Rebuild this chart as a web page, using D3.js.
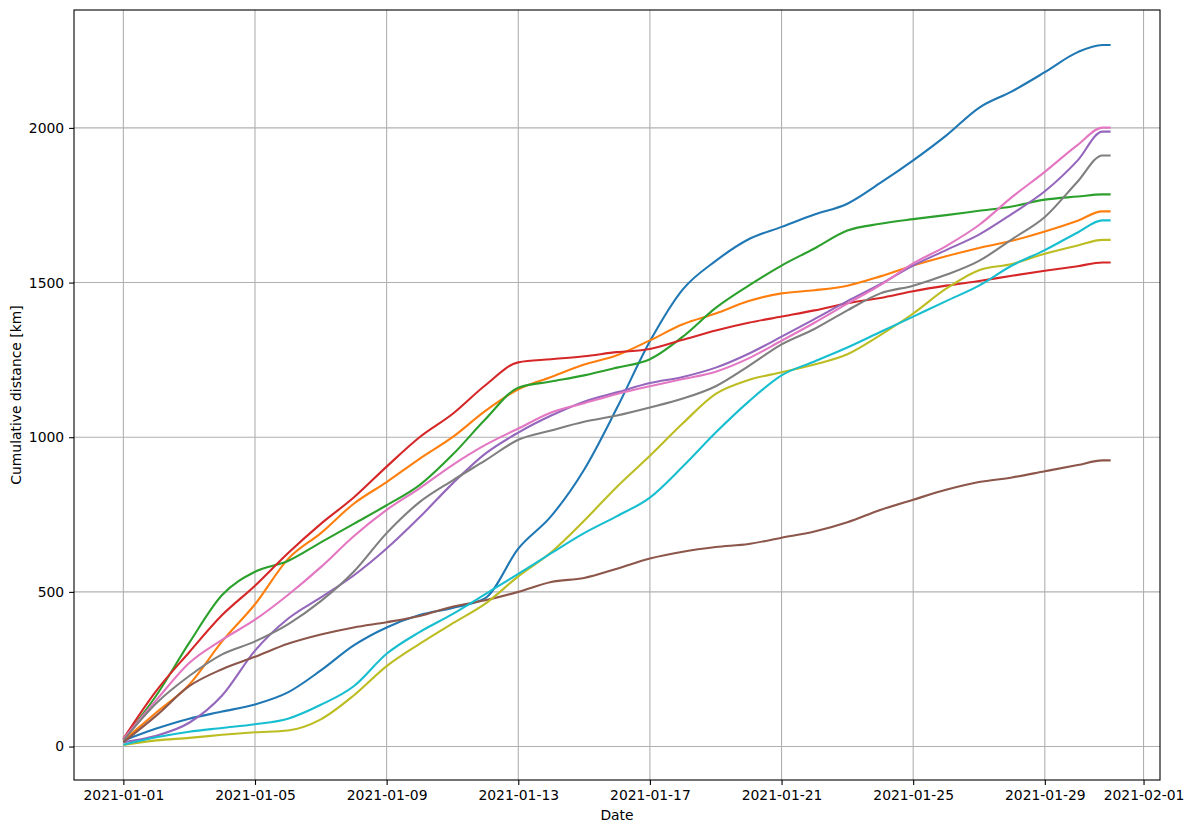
<!DOCTYPE html>
<html>
<head>
<meta charset="utf-8">
<script src="https://cdn.jsdelivr.net/npm/d3@7"></script>
<style>
body { margin: 0; background: #fff; }
svg { font-family: "DejaVu Sans", sans-serif; }
</style>
</head>
<body>
<script>
/* cumulative distance per rider, January 2021 */

const times = [
	"2021-01-01", "2021-01-02", "2021-01-03", "2021-01-04", "2021-01-05", "2021-01-06",
	"2021-01-07", "2021-01-08", "2021-01-09", "2021-01-10", "2021-01-11", "2021-01-12",
	"2021-01-13", "2021-01-14", "2021-01-15", "2021-01-16", "2021-01-17", "2021-01-18",
	"2021-01-19", "2021-01-20", "2021-01-21", "2021-01-22", "2021-01-23", "2021-01-24",
	"2021-01-25", "2021-01-26", "2021-01-27", "2021-01-28", "2021-01-29", "2021-01-30",
	"2021-01-30T18:00", "2021-01-31"
]

const blueKm   = [19,58,90,113,136,175,246,327,385,425,448,480,640,745,895,1095,1310,1478,1570,1640,1680,1720,1755,1822,1895,1975,2065,2118,2180,2245,2268,2268]
const orangeKm = [19,110,200,340,460,606,690,785,855,930,1000,1085,1155,1195,1235,1265,1313,1365,1400,1440,1465,1475,1490,1520,1555,1585,1612,1635,1665,1700,1730,1730]
const greenKm  = [25,165,335,490,565,600,660,720,780,845,943,1058,1160,1180,1200,1225,1252,1325,1418,1490,1555,1610,1668,1690,1705,1718,1732,1746,1768,1778,1785,1785]
const redKm    = [25,180,305,425,520,625,720,805,905,1000,1075,1168,1242,1252,1262,1275,1285,1315,1345,1370,1390,1410,1433,1450,1472,1490,1505,1522,1538,1553,1565,1565]
const purpleKm = [14,35,77,165,310,413,482,553,640,741,850,947,1015,1070,1115,1145,1175,1195,1225,1270,1325,1382,1440,1495,1555,1605,1655,1722,1795,1895,1988,1988]
const brownKm  = [14,100,195,250,290,332,362,385,402,422,452,473,500,532,545,575,608,630,645,655,675,695,725,765,798,830,855,870,890,910,925,925]
const pinkKm   = [25,150,270,345,410,490,580,680,765,835,910,975,1028,1080,1110,1140,1165,1188,1212,1255,1312,1370,1432,1492,1562,1618,1686,1776,1858,1945,2001,2001]
const grayKm   = [20,140,228,298,340,395,470,565,690,790,860,925,992,1022,1050,1070,1096,1125,1165,1230,1300,1350,1410,1465,1490,1525,1570,1640,1712,1827,1911,1911]
const oliveKm  = [5,20,28,38,46,52,88,165,260,332,398,462,550,628,730,840,940,1045,1140,1185,1210,1235,1268,1330,1400,1480,1540,1560,1593,1620,1638,1638]
const cyanKm   = [6,30,48,60,72,90,135,195,300,370,428,493,558,625,690,745,805,905,1015,1115,1200,1245,1290,1340,1390,1440,1490,1555,1605,1662,1701,1701]

const series = [blueKm, orangeKm, greenKm, redKm, purpleKm, brownKm, pinkKm, grayKm, oliveKm, cyanKm]
const colors = ["#1f77b4","#ff7f0e","#2ca02c","#d62728","#9467bd","#8c564b","#e377c2","#7f7f7f","#bcbd22","#17becf"]

const xTicks = ["2021-01-01","2021-01-05","2021-01-09","2021-01-13","2021-01-17","2021-01-21","2021-01-25","2021-01-29","2021-02-01"]
const yTicks = [0, 500, 1000, 1500, 2000]

const width = 1193, height = 833
const margin = {top: 10, right: 33, bottom: 53, left: 74}

const parse = s => new Date(s.length > 10 ? s : s + "T00:00")
const dates = times.map(parse)

// matplotlib style 5% padding on both axes
const t0 = +dates[0], t1 = +dates[dates.length - 1]
const tPad = (t1 - t0) * 0.05
const allV = series.flat()
const vMin = d3.min(allV), vMax = d3.max(allV)
const vPad = (vMax - vMin) * 0.05

const x = d3.scaleTime()
	.domain([new Date(t0 - tPad), new Date(t1 + tPad)])
	.range([margin.left, width - margin.right])

const y = d3.scaleLinear()
	.domain([vMin - vPad, vMax + vPad])
	.range([height - margin.bottom, margin.top])

const svg = d3.select("body").append("svg")
	.attr("width", width)
	.attr("height", height)

// grid
svg.append("g")
	.selectAll("line")
	.data(xTicks.map(parse))
	.join("line")
	.attr("x1", d => x(d)).attr("x2", d => x(d))
	.attr("y1", margin.top).attr("y2", height - margin.bottom)
	.attr("stroke", "#b0b0b0").attr("stroke-width", 1.1)

svg.append("g")
	.selectAll("line")
	.data(yTicks)
	.join("line")
	.attr("x1", margin.left).attr("x2", width - margin.right)
	.attr("y1", d => y(d)).attr("y2", d => y(d))
	.attr("stroke", "#b0b0b0").attr("stroke-width", 1.1)

// lines
const line = d3.line()
	.x((d, i) => x(dates[i]))
	.y(d => y(d))
	.curve(d3.curveMonotoneX)

svg.append("g")
	.selectAll("path")
	.data(series)
	.join("path")
	.attr("fill", "none")
	.attr("stroke", (d, i) => colors[i])
	.attr("stroke-width", 2.1)
	.attr("stroke-linejoin", "round")
	.attr("d", line)

// axes
const xAxis = svg.append("g")
	.attr("transform", `translate(0,${height - margin.bottom})`)
	.call(d3.axisBottom(x)
		.tickValues(xTicks.map(parse))
		.tickFormat(d3.timeFormat("%Y-%m-%d"))
		.tickSize(4.9).tickPadding(4.9).tickSizeOuter(0))

const yAxis = svg.append("g")
	.attr("transform", `translate(${margin.left},0)`)
	.call(d3.axisLeft(y)
		.tickValues(yTicks)
		.tickFormat(d3.format("d"))
		.tickSize(4.9).tickPadding(4.9).tickSizeOuter(0))

for (const g of [xAxis, yAxis]) {
	g.select(".domain").remove()
	g.selectAll(".tick line").attr("stroke", "#000").attr("stroke-width", 1.1)
	g.selectAll(".tick text")
		.attr("fill", "#000")
		.style("font-size", "13.9px")
		.style("font-family", "'DejaVu Sans', sans-serif")
}

// frame
svg.append("rect")
	.attr("x", margin.left).attr("y", margin.top)
	.attr("width", width - margin.left - margin.right)
	.attr("height", height - margin.top - margin.bottom)
	.attr("fill", "none").attr("stroke", "#000").attr("stroke-width", 1.1)

// labels
svg.append("text")
	.attr("x", (margin.left + width - margin.right) / 2)
	.attr("y", 820)
	.attr("text-anchor", "middle")
	.style("font-size", "13.9px")
	.text("Date")

svg.append("text")
	.attr("transform", `translate(21,${(margin.top + height - margin.bottom) / 2}) rotate(-90)`)
	.attr("text-anchor", "middle")
	.style("font-size", "13.9px")
	.text("Cumulative distance [km]")
</script>
</body>
</html>
